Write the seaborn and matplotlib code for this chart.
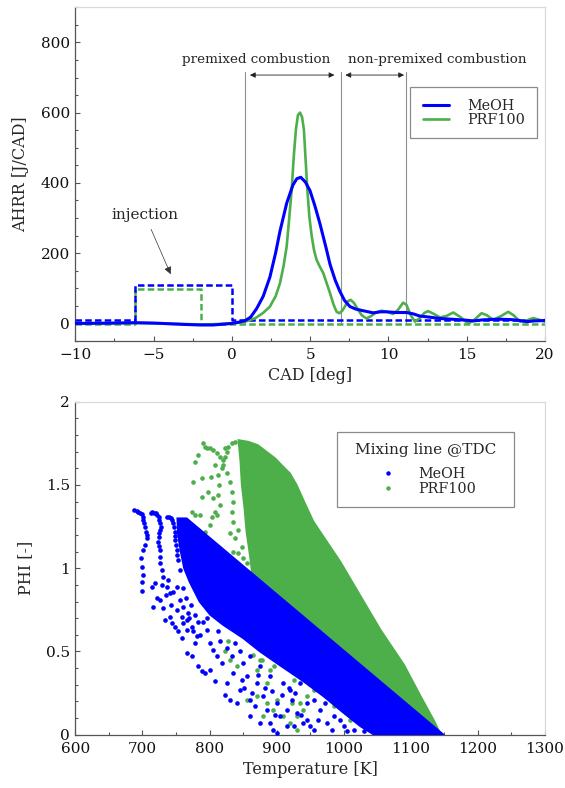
import numpy as np
import pandas as pd
import matplotlib
matplotlib.use("Agg")
import matplotlib.pyplot as plt
import seaborn as sns
from matplotlib.patches import Rectangle
from matplotlib.lines import Line2D
from matplotlib.ticker import MultipleLocator

# ------------------------------------------------------------------ data (top)
cad_meoh = [-10, -8, -6.2, -5, -4, -3, -2, -1.2, -0.5, 0, 0.5, 0.85, 1.2, 1.58, 2.0,
            2.43, 2.8, 3.07, 3.5, 3.9, 4.15, 4.4, 4.7, 4.99, 5.3, 5.63, 6.0, 6.27,
            6.6, 6.9, 7.2, 7.54, 7.9, 8.39, 9.03, 9.5, 9.88, 10.5, 11.16, 11.6, 12.0,
            12.6, 13.29, 14.35, 15.0, 15.42, 16.0, 16.48, 17.0, 17.76, 18.3, 18.82,
            19.3, 19.88, 20]
ahrr_meoh = [0, 0.5, 2, 1, -1, -3, -4.5, -4.5, -2, 0, 4, 8, 18, 42, 77,
             132, 202, 262, 342, 394, 412, 416, 402, 378, 335, 283, 218, 168,
             123, 91, 65, 48, 41, 36, 30, 33, 33, 31, 31, 27, 21,
             18, 14, 11, 9, 7, 10, 11, 12, 11, 9, 5,
             7, 8, 9]

cad_prf = [-10, -6, -4, -2, -1, 0, 0.5, 0.85, 1.5, 2.0, 2.43, 2.8, 3.07, 3.3, 3.5,
           3.65, 3.82, 3.95, 4.09, 4.22, 4.35, 4.48, 4.6, 4.7, 4.82, 4.95, 5.1,
           5.25, 5.41, 5.6, 5.84, 6.05, 6.27, 6.5, 6.69, 6.86, 7.05, 7.22, 7.4,
           7.59, 7.8, 8.07, 8.3, 8.6, 8.9, 9.2, 9.56, 9.9, 10.3, 10.6, 10.94,
           11.15, 11.4, 11.69, 12.0, 12.3, 12.54, 12.9, 13.29, 13.7, 14.14, 14.6,
           15.1, 15.5, 15.95, 16.3, 16.69, 17.2, 17.65, 18.0, 18.4, 18.8, 19.25,
           19.6, 20.0]
ahrr_prf = [0, 1, -1, -3, -2, 0, 2, 5, 15, 30, 48, 78, 114, 163, 219,
            293, 381, 473, 552, 593, 600, 588, 552, 473, 381, 303, 248,
            208, 181, 163, 143, 115, 86, 53, 33, 29, 36, 48, 63,
            67, 58, 38, 23, 14, 21, 31, 36, 33, 27, 38, 59,
            53, 25, 5, 15, 30, 35, 27, 17, 21, 31, 18,
            -1, 11, 29, 23, 10, 21, 33, 23, 5, 8, 15,
            11, 5]

inj_cad_meoh = [-10, -6.2, 0.03, 20]
inj_meoh = [9, 108, 9, 9]
inj_cad_prf = [-10, -6.2, -2.0, 20]
inj_prf = [-1, 97, -1, -1]

phase_lines_cad = [0.86, 7.0, 11.15]

# --------------------------------------------------------------- data (bottom)
# dense parts of the mixing-line clouds (outline)
meoh_cloud_T = [752, 766, 1149, 1045, 1025, 1000, 970, 940, 900, 875, 850, 820,
                801, 785, 770, 762, 757, 753]
meoh_cloud_phi = [1.30, 1.30, 0.0, 0.0, 0.05, 0.13, 0.23, 0.32, 0.43, 0.50, 0.58,
                  0.66, 0.72, 0.80, 0.92, 1.00, 1.10, 1.20]

prf_cloud_T = [843, 858, 872, 885, 898, 910, 920, 930, 940, 955, 975, 995, 1055,
               1090, 1115, 1134, 1145, 1140, 864, 860, 855, 852, 848, 846]
prf_cloud_phi = [1.77, 1.76, 1.74, 1.70, 1.66, 1.61, 1.57, 1.50, 1.41, 1.28, 1.16,
                 1.04, 0.63, 0.42, 0.23, 0.09, 0.0, 0.0, 0.95, 1.08, 1.22, 1.36,
                 1.50, 1.64]

# individual (sparse) points
meoh_T = [687.5, 691.4, 694, 696.4, 699, 700.4, 701.5, 702.4, 704, 705.4, 706.5,
          707.3, 703.9, 700.4, 697.9, 698.9, 700.4, 698.9, 699.4,
          712.3, 714.8, 717.3, 720, 722.2, 724, 725.2, 726.5, 727.2, 726.5, 725.2,
          724.5, 723.7, 725, 726.2, 726.5, 726.2, 728.7, 731.2, 728.7,
          737.1, 739.5, 742.1, 744.5, 746.1, 747.5, 748.6, 748.6, 748.6, 750,
          751.1, 752, 753.5, 756.0,
          713.8, 718.8, 715.3, 721.3, 726.2, 731.2, 733.7, 741.1, 743.6, 748.6,
          753.5, 761.0, 766.0, 768.4, 758.5, 766.0, 773.4, 783.4, 788.3, 793.3,
          778.4, 785.8, 795.8, 800.7, 805.7, 810.7, 800.7, 808.2, 818.1, 823.1,
          830.5, 840.5, 845.5, 855.4, 860.4, 867.8, 870.3, 880.2, 885.2, 890.2,
          900.1, 905.1, 915.0, 910.0, 922.5, 929.9, 939.8, 944.8, 860.4, 875.3,
          895.1, 825.6, 835.5, 850.4, 860.4, 875.3, 890.2, 741.1, 751.1, 756.0,
          761.0, 738.6, 736.2, 766.0, 773.4, 781.1, 751.1, 758.5,
          935.3, 955.2, 965.1, 975.1, 985.0, 999.9, 1009.8, 955.2, 925.4, 945.3,
          915.5, 900.5, 1014.8, 990.0, 920.4,
          790, 797, 812, 815, 826, 833, 845, 838, 848, 852, 863, 872, 882, 893,
          898, 908, 918, 927, 937, 950, 962, 972, 982, 995, 1005, 1030,
          760, 765, 772, 778, 783, 770, 776, 745, 735, 742]
meoh_phi = [1.35, 1.346, 1.34, 1.334, 1.325, 1.31, 1.29, 1.27, 1.245, 1.22, 1.20,
            1.18, 1.14, 1.11, 1.06, 1.01, 0.96, 0.92, 0.865,
            1.334, 1.336, 1.334, 1.33, 1.32, 1.305, 1.29, 1.27, 1.25, 1.23, 1.21,
            1.185, 1.16, 1.135, 1.11, 1.07, 1.03, 0.99, 0.95, 0.90,
            1.31, 1.305, 1.30, 1.29, 1.27, 1.245, 1.22, 1.195, 1.17, 1.14,
            1.11, 1.08, 1.05, 0.99,
            0.89, 0.91, 0.77, 0.82, 0.81, 0.76, 0.69, 0.71, 0.67, 0.65,
            0.62, 0.67, 0.69, 0.73, 0.58, 0.49, 0.47, 0.41, 0.38, 0.37,
            0.55, 0.60, 0.63, 0.55, 0.51, 0.47, 0.39, 0.32, 0.43, 0.24,
            0.21, 0.19, 0.27, 0.35, 0.21, 0.17, 0.31, 0.23, 0.15, 0.07,
            0.19, 0.11, 0.05, 0.31, 0.21, 0.13, 0.07, 0.19, 0.11, 0.07,
            0.03, 0.31, 0.37, 0.43, 0.47, 0.41, 0.35, 0.85, 0.89, 0.81,
            0.77, 0.93, 0.89, 0.63, 0.65, 0.59, 0.75, 0.71,
            0.31, 0.21, 0.15, 0.07, 0.11, 0.05, 0.15, 0.03, 0.05, 0.09,
            0.15, 0.01, 0.03, 0.19, 0.27,
            0.68, 0.70, 0.62, 0.56, 0.52, 0.47, 0.50, 0.55, 0.33, 0.28, 0.25,
            0.36, 0.28, 0.26, 0.12, 0.24, 0.28, 0.25, 0.12, 0.05, 0.09, 0.19,
            0.03, 0.09, 0.02, 0.02,
            0.88, 0.82, 0.78, 0.72, 0.68, 0.70, 0.62, 0.86, 0.84, 0.78]

prf_T = [790.8, 793.3, 795.7, 800.7, 805.7, 810.6, 815.6, 819.6, 823.1, 825.6,
         823.1, 828.0, 833.0, 838.0, 778.4, 783.3, 775.9, 788.3, 788.3, 801.7,
         798.2, 805.7, 808.2, 803.2, 800.7, 785.8, 773.4, 778.4, 793.3, 810.6,
         815.6, 813.1, 814.6, 813.1, 818.1, 825.6, 830.5, 833.0, 835.5, 833.0,
         835.5, 830.5, 838.0, 843.0, 847.9, 843.0, 835.5, 850.4, 855.4, 820.6,
         808.2,
         828.1, 823.1, 830.5, 840.5, 865.3, 870.3, 877.7, 890.2, 885.2, 855.4,
         870.3, 885.2, 895.1, 900.1, 910.0, 920.0, 929.9, 934.9, 944.8, 929.9,
         922.5, 939.8, 880.2, 1009.8, 1014.8, 985.0, 955.2, 925.4, 895.6, 875.7]
prf_phi = [1.75, 1.73, 1.72, 1.72, 1.71, 1.69, 1.67, 1.65, 1.67, 1.70,
           1.72, 1.73, 1.75, 1.76, 1.64, 1.68, 1.52, 1.54, 1.43, 1.55,
           1.46, 1.42, 1.34, 1.31, 1.26, 1.32, 1.34, 1.32, 1.22, 1.32,
           1.38, 1.44, 1.50, 1.56, 1.60, 1.57, 1.52, 1.46, 1.40, 1.34,
           1.28, 1.21, 1.18, 1.23, 1.13, 1.09, 1.10, 1.06, 1.03, 1.62,
           1.62,
           0.56, 0.50, 0.45, 0.41, 0.48, 0.39, 0.45, 0.39, 0.31, 0.21,
           0.23, 0.19, 0.15, 0.21, 0.11, 0.07, 0.11, 0.19, 0.23, 0.03,
           0.19, 0.15, 0.11, 0.09, 0.15, 0.17, 0.27, 0.33, 0.41, 0.45]

# ------------------------------------------------------------------ style
sns.set_style("ticks")
plt.rcParams['font.family'] = ['DejaVu Serif']
plt.rcParams['mathtext.fontset'] = 'dejavuserif'
plt.rcParams['axes.unicode_minus'] = True

BLUE = '#0000ff'
GREEN = '#4daf4a'
SPINE = '#555555'
LIGHT = '#d9d9d9'

fig = plt.figure(figsize=(5.65, 7.88), dpi=100)
ax1 = fig.add_axes([0.1333, 0.5673, 0.8313, 0.4235])
ax2 = fig.add_axes([0.1333, 0.0676, 0.8313, 0.4226])


def style_axes(ax):
    for s in ['left', 'bottom']:
        ax.spines[s].set_color(SPINE)
        ax.spines[s].set_linewidth(0.9)
    for s in ['top', 'right']:
        ax.spines[s].set_color(LIGHT)
        ax.spines[s].set_linewidth(0.9)
    ax.tick_params(which='both', direction='in', top=False, right=False,
                   color=SPINE, width=0.8, labelsize=11, labelcolor='#111111')
    ax.tick_params(which='major', length=3.4)
    ax.tick_params(which='minor', length=2.0)
    ax.tick_params(axis='x', which='major', pad=5)
    ax.tick_params(axis='y', which='major', pad=4)
    ax.grid(False)


# ------------------------------------------------------------------ top panel
for xc in phase_lines_cad:
    ax1.plot([xc, xc], [0, 716], color='#8f8f8f', lw=0.8, zorder=1)

sns.lineplot(x=inj_cad_prf, y=inj_prf, ax=ax1, color=GREEN, lw=1.8,
             drawstyle='steps-post', estimator=None, sort=False, zorder=2)
ax1.lines[-1].set_dashes([2.6, 1.3])
sns.lineplot(x=inj_cad_meoh, y=inj_meoh, ax=ax1, color=BLUE, lw=1.8,
             drawstyle='steps-post', estimator=None, sort=False, zorder=3)
ax1.lines[-1].set_dashes([2.6, 1.3])

sns.lineplot(x=cad_prf, y=ahrr_prf, ax=ax1, color=GREEN, lw=1.9,
             estimator=None, sort=False, zorder=4)
line_prf = ax1.lines[-1]
sns.lineplot(x=cad_meoh, y=ahrr_meoh, ax=ax1, color=BLUE, lw=2.2,
             estimator=None, sort=False, zorder=5)
line_meoh = ax1.lines[-1]

ax1.set_xlim(-10, 20)
ax1.set_ylim(-50, 900)
ax1.xaxis.set_major_locator(MultipleLocator(5))
ax1.xaxis.set_minor_locator(MultipleLocator(2.5))
ax1.yaxis.set_major_locator(MultipleLocator(200))
ax1.yaxis.set_minor_locator(MultipleLocator(50))
ax1.set_yticks([0, 200, 400, 600, 800])
style_axes(ax1)
ax1.set_xlabel('CAD [deg]', fontsize=11.5, labelpad=4)
ax1.set_ylabel('AHRR [J/CAD]', fontsize=11.5)
ax1.yaxis.set_label_coords(-0.098, 0.5)

# annotations
arrow_kw = dict(arrowstyle='<|-|>', color='#222222', lw=0.6, mutation_scale=8,
                shrinkA=0, shrinkB=0)
ax1.annotate('', xy=(1.15, 707), xytext=(6.55, 707), arrowprops=arrow_kw, zorder=6)
ax1.annotate('', xy=(7.25, 707), xytext=(11.0, 707), arrowprops=arrow_kw, zorder=6)
ax1.text(1.54, 750, 'premixed combustion', ha='center', va='center', fontsize=9.7)
ax1.text(13.15, 750, 'non-premixed combustion', ha='center', va='center', fontsize=9.7)
ax1.annotate('injection', xy=(-3.91, 140), xytext=(-5.55, 308),
             ha='center', va='center', fontsize=11,
             arrowprops=dict(arrowstyle='-|>', color='#333333', lw=0.5,
                             mutation_scale=11, shrinkA=3, shrinkB=0))

ax1.add_patch(Rectangle((0.713, 0.607), 0.271, 0.153, transform=ax1.transAxes,
                        facecolor='white', edgecolor='#8a8a8a', lw=0.9, zorder=7))
leg1 = ax1.legend(handles=[line_meoh, line_prf], labels=['MeOH', 'PRF100'],
                  loc='center', bbox_to_anchor=(0.849, 0.684), frameon=False,
                  fontsize=10.3, handlelength=1.82, handletextpad=1.24,
                  labelspacing=0.0, borderpad=0.0, borderaxespad=0.0)
leg1.set_zorder(8)

# ------------------------------------------------------------------ bottom panel
ax2.fill(prf_cloud_T, prf_cloud_phi, color=GREEN, lw=1.2, zorder=1)
sns.scatterplot(x=prf_T, y=prf_phi, ax=ax2, color=GREEN, s=11, linewidth=0,
                zorder=2, legend=False)
ax2.fill(meoh_cloud_T, meoh_cloud_phi, color=BLUE, lw=1.2, zorder=3)
sns.scatterplot(x=meoh_T, y=meoh_phi, ax=ax2, color=BLUE, s=11, linewidth=0,
                zorder=4, legend=False)

ax2.set_xlim(600, 1300)
ax2.set_ylim(0, 2)
ax2.xaxis.set_major_locator(MultipleLocator(100))
ax2.xaxis.set_minor_locator(MultipleLocator(50))
ax2.yaxis.set_major_locator(MultipleLocator(0.5))
ax2.yaxis.set_minor_locator(MultipleLocator(0.1))
ax2.set_yticks([0, 0.5, 1, 1.5, 2])
ax2.set_yticklabels(['0', '0.5', '1', '1.5', '2'])
style_axes(ax2)
ax2.set_xlabel('Temperature [K]', fontsize=11.5, labelpad=4)
ax2.set_ylabel('PHI [-]', fontsize=11.5)
ax2.yaxis.set_label_coords(-0.088, 0.5)

ax2.add_patch(Rectangle((0.558, 0.685), 0.377, 0.225, transform=ax2.transAxes,
                        facecolor='white', edgecolor='#8a8a8a', lw=0.9, zorder=7))
ax2.text(0.746, 0.855, 'Mixing line @TDC', transform=ax2.transAxes,
         ha='center', va='center', fontsize=11, zorder=9)
h_meoh = Line2D([], [], ls='', marker='o', markersize=3.2, mew=0, color=BLUE)
h_prf = Line2D([], [], ls='', marker='o', markersize=3.2, mew=0, color=GREEN)
leg2 = ax2.legend(handles=[h_meoh, h_prf], labels=['MeOH', 'PRF100'],
                  loc='center', bbox_to_anchor=(0.746, 0.761), frameon=False,
                  fontsize=10.3, handlelength=1.68, handletextpad=1.26,
                  labelspacing=0.05, borderpad=0.0, borderaxespad=0.0)
leg2.set_zorder(8)

fig.savefig('out.png', dpi=100)
